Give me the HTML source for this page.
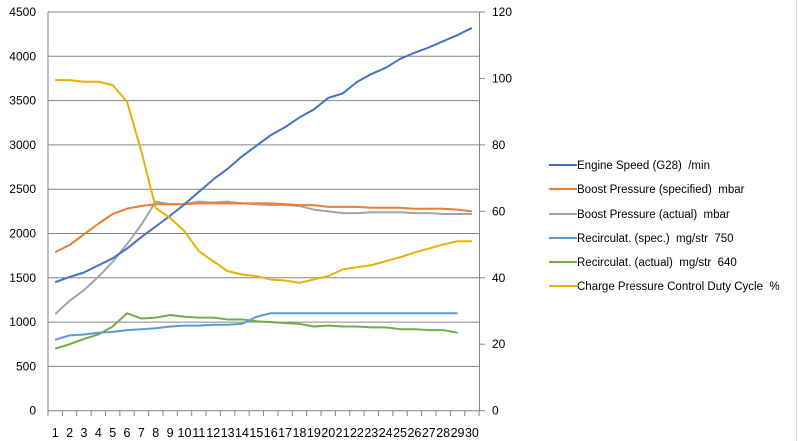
<!DOCTYPE html>
<html><head><meta charset="utf-8"><style>
body{margin:0;background:#fff;}
svg{display:block;font-family:"Liberation Sans",sans-serif;font-size:12px;}
.lg text{white-space:pre;}
</style></head><body>
<svg width="798" height="441" viewBox="0 0 798 441">
<rect width="798" height="441" fill="#fff"/>
<line x1="796.5" y1="0" x2="796.5" y2="441" stroke="#d9d9d9"/>
<g stroke="#868686" stroke-width="1">
<line x1="48" y1="12" x2="480" y2="12"/>
<line x1="48" y1="56.3" x2="480" y2="56.3"/>
<line x1="48" y1="100.6" x2="480" y2="100.6"/>
<line x1="48" y1="144.9" x2="480" y2="144.9"/>
<line x1="48" y1="189.2" x2="480" y2="189.2"/>
<line x1="48" y1="233.5" x2="480" y2="233.5"/>
<line x1="48" y1="277.8" x2="480" y2="277.8"/>
<line x1="48" y1="322.1" x2="480" y2="322.1"/>
<line x1="48" y1="366.4" x2="480" y2="366.4"/>
<line x1="48" y1="410.7" x2="480" y2="410.7"/>
<line x1="48" y1="12" x2="48" y2="410.7"/>
<line x1="479.5" y1="12" x2="479.5" y2="410.7"/>
<line x1="479.5" y1="12" x2="485" y2="12"/>
<line x1="479.5" y1="78.4" x2="485" y2="78.4"/>
<line x1="479.5" y1="144.9" x2="485" y2="144.9"/>
<line x1="479.5" y1="211.3" x2="485" y2="211.3"/>
<line x1="479.5" y1="277.8" x2="485" y2="277.8"/>
<line x1="479.5" y1="344.2" x2="485" y2="344.2"/>
<line x1="479.5" y1="410.7" x2="485" y2="410.7"/>
</g>
<g stroke="#868686" id="xt"></g>
<g fill="#000" text-anchor="end">
<text x="36" y="16">4500</text><text x="36" y="60.3">4000</text><text x="36" y="104.6">3500</text>
<text x="36" y="148.9">3000</text><text x="36" y="193.2">2500</text><text x="36" y="237.5">2000</text>
<text x="36" y="281.8">1500</text><text x="36" y="326.1">1000</text><text x="36" y="370.4">500</text>
<text x="36" y="414.7">0</text>
</g>
<g fill="#000">
<text x="492" y="16">120</text><text x="492" y="82.4">100</text><text x="492" y="148.9">80</text>
<text x="492" y="215.3">60</text><text x="492" y="281.8">40</text><text x="492" y="348.2">20</text>
<text x="492" y="414.7">0</text>
</g>
<g id="xl" fill="#000" text-anchor="middle" font-size="12.5px"></g>
<g fill="none" stroke-width="2" stroke-linejoin="round" transform="translate(40.8,410.7) scale(14.37,-0.0886)">
<polyline vector-effect="non-scaling-stroke" stroke="#70AD47" points="1,700 2,750 3,810 4,860 5,950 6,1100 7,1040 8,1050 9,1080 10,1060 11,1050 12,1050 13,1030 14,1030 15,1010 16,1000 17,990 18,980 19,950 20,960 21,950 22,950 23,940 24,940 25,920 26,920 27,910 28,910 29,880"/>
<polyline vector-effect="non-scaling-stroke" stroke="#5B9BD5" points="1,800 2,850 3,860 4,880 5,890 6,910 7,920 8,930 9,950 10,960 11,960 12,970 13,970 14,980 15,1060 16,1100 17,1100 18,1100 19,1100 20,1100 21,1100 22,1100 23,1100 24,1100 25,1100 26,1100 27,1100 28,1100 29,1100"/>
<polyline vector-effect="non-scaling-stroke" stroke="#A5A5A5" points="1,1090 2,1240 3,1360 4,1510 5,1680 6,1880 7,2100 8,2360 9,2330 10,2330 11,2360 12,2350 13,2360 14,2340 15,2330 16,2320 17,2320 18,2310 19,2270 20,2250 21,2230 22,2230 23,2240 24,2240 25,2240 26,2230 27,2230 28,2220 29,2220 30,2220"/>
<polyline vector-effect="non-scaling-stroke" stroke="#ED7D31" points="1,1790 2,1870 3,1990 4,2110 5,2220 6,2280 7,2310 8,2330 9,2330 10,2330 11,2340 12,2340 13,2340 14,2340 15,2340 16,2340 17,2330 18,2320 19,2320 20,2300 21,2300 22,2300 23,2290 24,2290 25,2290 26,2280 27,2280 28,2280 29,2270 30,2250"/>
<polyline vector-effect="non-scaling-stroke" stroke="#4472C4" points="1,1450 2,1510 3,1560 4,1640 5,1720 6,1830 7,1960 8,2080 9,2200 10,2330 11,2470 12,2610 13,2730 14,2870 15,2990 16,3110 17,3200 18,3310 19,3400 20,3530 21,3580 22,3710 23,3800 24,3870 25,3970 26,4040 27,4100 28,4170 29,4240 30,4320"/>
</g>
<g fill="none" stroke-width="2" stroke-linejoin="round" transform="translate(40.8,410.7) scale(14.37,-3.3225)">
<polyline vector-effect="non-scaling-stroke" stroke="#E5B20A" points="1,99.5 2,99.5 3,99 4,99 5,98 6,93 7,78 8,61 9,58 10,54 11,48 12,45 13,42 14,41 15,40.5 16,39.5 17,39.2 18,38.5 19,39.5 20,40.5 21,42.5 22,43.2 23,43.8 24,45 25,46.2 26,47.6 27,48.8 28,50 29,51 30,51"/>
</g>
<g class="lg" font-size="11.5px" fill="#000">
<line x1="549" y1="165" x2="577" y2="165" stroke="#4472C4" stroke-width="2"/><text x="577" y="169">Engine Speed (G28)  /min</text>
<line x1="549" y1="189" x2="577" y2="189" stroke="#ED7D31" stroke-width="2"/><text x="577" y="193">Boost Pressure (specified)  mbar</text>
<line x1="549" y1="214" x2="577" y2="214" stroke="#A5A5A5" stroke-width="2"/><text x="577" y="218">Boost Pressure (actual)  mbar</text>
<line x1="549" y1="238" x2="577" y2="238" stroke="#5B9BD5" stroke-width="2"/><text x="577" y="242">Recirculat. (spec.)  mg/str  750</text>
<line x1="549" y1="262" x2="577" y2="262" stroke="#70AD47" stroke-width="2"/><text x="577" y="266">Recirculat. (actual)  mg/str  640</text>
<line x1="549" y1="286" x2="577" y2="286" stroke="#E5B20A" stroke-width="2"/><text x="577" y="290">Charge Pressure Control Duty Cycle  %</text>
</g>
<script>
var ns="http://www.w3.org/2000/svg",xt=document.getElementById("xt"),xl=document.getElementById("xl");
for(var i=0;i<=30;i++){var x=48+i*14.37;var l=document.createElementNS(ns,"line");l.setAttribute("x1",x);l.setAttribute("x2",x);l.setAttribute("y1",410.7);l.setAttribute("y2",416);xt.appendChild(l);}
for(var i=1;i<=30;i++){var t=document.createElementNS(ns,"text");t.setAttribute("x",48+(i-0.5)*14.37);t.setAttribute("y",437);t.textContent=i;xl.appendChild(t);}
</script>
</svg>
</body></html>
